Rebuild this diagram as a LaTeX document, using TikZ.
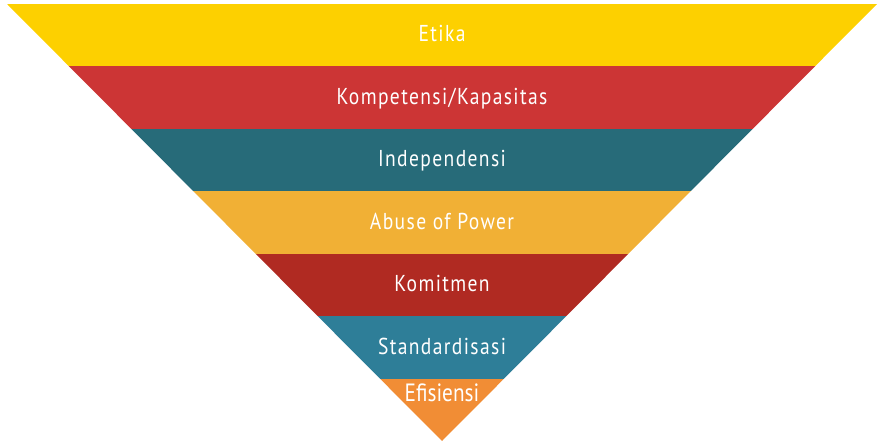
\documentclass[tikz,border=0pt]{standalone}
\usepackage{fontspec}
\setmainfont{PT Sans}[FakeStretch=0.85]
\newfontfamily\spacedfont{PT Sans}[FakeStretch=0.85,LetterSpace=6]
\begin{document}
\begin{tikzpicture}[x=1pt,y=-1pt,
  label/.style={text=white,font=\spacedfont\fontsize{23}{26}\selectfont,anchor=base,inner sep=0pt},
  lastlabel/.style={text=white,font=\fontsize{25}{28}\selectfont,anchor=base,inner sep=0pt}]
\useasboundingbox (0,0) rectangle (879,443);
\definecolor{cEtika}{HTML}{FDD000}
\definecolor{cKomp}{HTML}{CC3535}
\definecolor{cIndep}{HTML}{276B79}
\definecolor{cAbuse}{HTML}{F1B035}
\definecolor{cKomit}{HTML}{B02A22}
\definecolor{cStand}{HTML}{2E7E98}
\definecolor{cEfis}{HTML}{F18D35}
% inverted triangle, split into seven horizontal bands
\begin{scope}
  \clip (7,4) -- (877,4) -- (442,441) -- cycle;
  \fill[cEtika] (0,4) rectangle (879,66.5);
  \fill[cKomp]  (0,66.5) rectangle (879,129);
  \fill[cIndep] (0,129) rectangle (879,191.5);
  \fill[cAbuse] (0,191.5) rectangle (879,254);
  \fill[cKomit] (0,254) rectangle (879,316.5);
  \fill[cStand] (0,316.5) rectangle (879,379);
  \fill[cEfis]  (0,379) rectangle (879,443);
\end{scope}
\node[label] (etika) at (442,42) {Etika};
\node[label] (komp)  at (442,104.5) {Kompetensi/Kapasitas};
\node[label] (indep) at (442,167) {Independensi};
\node[label] (abuse) at (442,229.5) {Abuse of Power};
\node[label] (komit) at (442,292) {Komitmen};
\node[label] (stand) at (442,354.5) {Standardisasi};
\node[lastlabel] (efis) at (442,402) {Efisiensi};
\end{tikzpicture}
\end{document}
